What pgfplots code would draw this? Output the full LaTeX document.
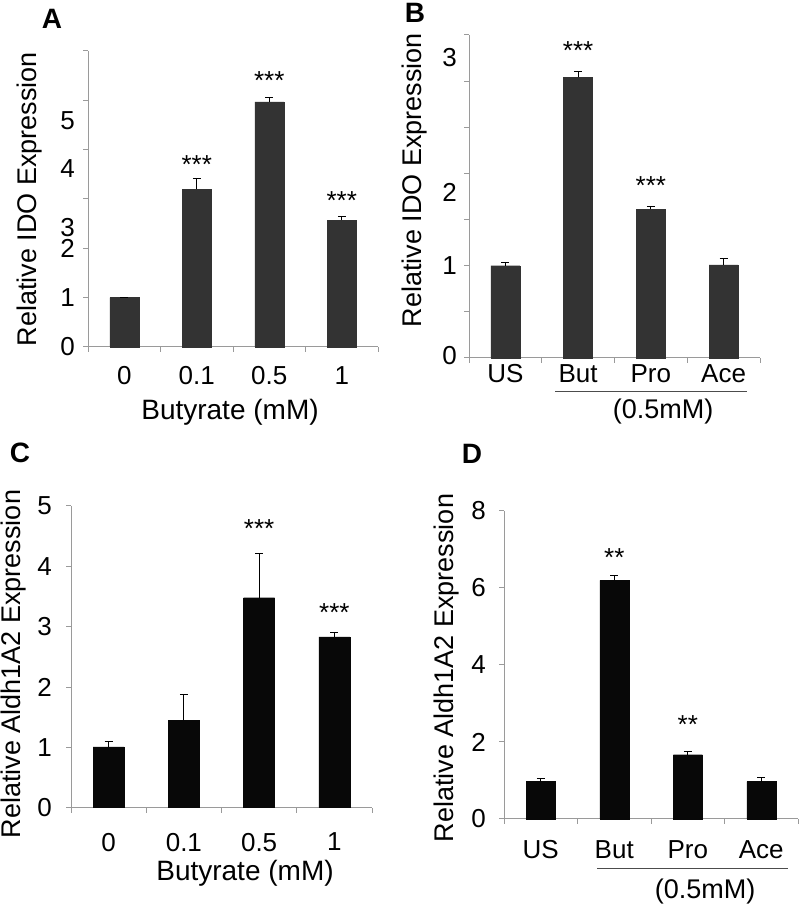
\documentclass[border=0pt]{standalone}
\usepackage{pgfplots}
\pgfplotsset{compat=1.18}
\usepackage{fontspec}
\setmainfont{Liberation Sans}
\definecolor{axgray}{HTML}{9A9A9A}
\definecolor{bardark}{HTML}{333333}
\definecolor{barblack}{HTML}{080808}

\pgfplotstableread{
x y e
0 1.00 0.01
1 3.20 0.21
2 4.97 0.08
3 2.57 0.08
}\dataA
\pgfplotstableread{
x y e
0 1.00 0.03
1 3.04 0.06
2 1.61 0.03
3 1.01 0.07
}\dataB
\pgfplotstableread{
x y e
0 1.01 0.08
1 1.45 0.43
2 3.48 0.74
3 2.83 0.07
}\dataC
\pgfplotstableread{
x y e
0 0.97 0.08
1 6.20 0.12
2 1.67 0.08
3 0.97 0.11
}\dataD

\pgfplotsset{
  panel/.style={
    scale only axis,
    axis lines=left,
    axis line style={-, axgray, line width=1pt},
    tick align=outside,
    major tick length=5pt,
    minor tick length=5pt,
    xmin=-0.5, xmax=3.5, ymin=0,
    xtick={0,1,2,3},
    minor xtick={-0.5,0.5,1.5,2.5,3.5},
    major x tick style={draw=none},
    minor x tick style={axgray, line width=1pt},
    major y tick style={axgray, line width=1pt},
    ticklabel style={font=\fontsize{26}{29}\selectfont, inner sep=0pt},
    xticklabel shift=14pt,
    /pgf/number format/assume math mode=true,
    clip=false,
  },
  bars/.style={ybar, bar width=#1, bar shift=0pt,
    /pgfplots/error bars/y dir=plus,
    /pgfplots/error bars/y explicit,
    /pgfplots/error bars/error bar style={black, line width=1pt},
    /pgfplots/error bars/error mark options={rotate=90, mark size=4pt, line width=1pt, black}},
}
\newcommand{\stars}{\fontsize{26}{28}\selectfont}
\newcommand{\lab}{\fontsize{27}{30}\selectfont}

\begin{document}
\begin{tikzpicture}[x=1pt,y=1pt]
\path[use as bounding box] (0pt,0pt) rectangle (800pt,909pt);

% ---------- A ----------
\begin{axis}[panel, at={(88pt,562pt)}, anchor=south west,
  width=290pt, height=296pt, ymax=6,
  xticklabels={0,0.1,0.5,1},
  ytick={0,1,2,3,4,5,6}, yticklabels={},
  extra y ticks={0,1,1.99,2.43,3.61,4.59},
  extra y tick labels={0,1,2,3,4,5},
  extra y tick style={tick style={draw=none}},
  yticklabel shift=8pt]
\addplot[bars=29pt, fill=bardark, draw=bardark] table[x=x, y=y, y error=e] {\dataA};
\node[font=\stars] at (axis cs:1,3.70) {***};
\node[font=\stars] at (axis cs:2,5.41) {***};
\node[font=\stars] at (axis cs:3,2.97) {***};
\end{axis}

% ---------- B ----------
\begin{axis}[panel, at={(469pt,551pt)}, anchor=south west,
  width=291pt, height=323pt, ymax=3.5,
  xticklabels={US,But,Pro,Ace},
  xticklabel shift=1pt,
  ytick={0,0.5,1,1.5,2,2.5,3,3.5}, yticklabels={},
  extra y ticks={0.03,1,1.79,3.26},
  extra y tick labels={0,1,2,3},
  extra y tick style={tick style={draw=none}},
  yticklabel shift=7pt]
\addplot[bars=29pt, fill=bardark, draw=bardark] table[x=x, y=y, y error=e] {\dataB};
\node[font=\stars] at (axis cs:1,3.33) {***};
\node[font=\stars] at (axis cs:2,1.87) {***};
\end{axis}

% ---------- C ----------
\begin{axis}[panel, at={(71pt,101.3pt)}, anchor=south west,
  width=301pt, height=301.7pt, ymax=5,
  xticklabels={0,0.1,0.5,1},
  xticklabel shift=20pt,
  ytick={0,1,2,3,4,5},
  yticklabel shift=14pt]
\addplot[bars=31pt, fill=barblack, draw=barblack] table[x=x, y=y, y error=e] {\dataC};
\node[font=\stars] at (axis cs:2,4.62) {***};
\node[font=\stars] at (axis cs:3,3.24) {***};
\end{axis}

% ---------- D ----------
\begin{axis}[panel, at={(504pt,90pt)}, anchor=south west,
  width=294pt, height=308pt, ymax=8,
  xticklabels={US,But,Pro,Ace},
  xticklabel shift=16pt,
  ytick={0,2,4,6,8},
  yticklabel shift=13pt]
\addplot[bars=29pt, fill=barblack, draw=barblack] table[x=x, y=y, y error=e] {\dataD};
\node[font=\stars] at (axis cs:1,6.80) {**};
\node[font=\stars] at (axis cs:2,2.45) {**};
\end{axis}

% ---------- annotations ----------
\node[font=\fontsize{28}{30}\selectfont\bfseries] at (52pt,890pt) {A};
\node[font=\fontsize{28}{30}\selectfont\bfseries] at (415pt,896pt) {B};
\node[font=\fontsize{28}{30}\selectfont\bfseries] at (20pt,456pt) {C};
\node[font=\fontsize{28}{30}\selectfont\bfseries] at (472pt,455pt) {D};

\node[font=\lab, rotate=90] at (30pt,710pt) {Relative IDO Expression};
\node[font=\lab, rotate=90] at (415pt,729pt) {Relative IDO Expression};
\node[font=\lab, rotate=90] at (14pt,245pt) {Relative Aldh1A2 Expression};
\node[font=\lab, rotate=90] at (447pt,241pt) {Relative Aldh1A2 Expression};

\node[font=\fontsize{28}{30}\selectfont] at (230pt,497pt) {Butyrate (mM)};
\node[font=\fontsize{28}{30}\selectfont] at (245pt,36pt) {Butyrate (mM)};

\draw[black!70, line width=1pt] (555pt,517pt) -- (747pt,517pt);
\node[font=\lab] at (663pt,497pt) {(0.5mM)};
\draw[black!70, line width=1pt] (597pt,40pt) -- (788pt,40pt);
\node[font=\lab] at (705pt,17pt) {(0.5mM)};
\end{tikzpicture}
\end{document}
